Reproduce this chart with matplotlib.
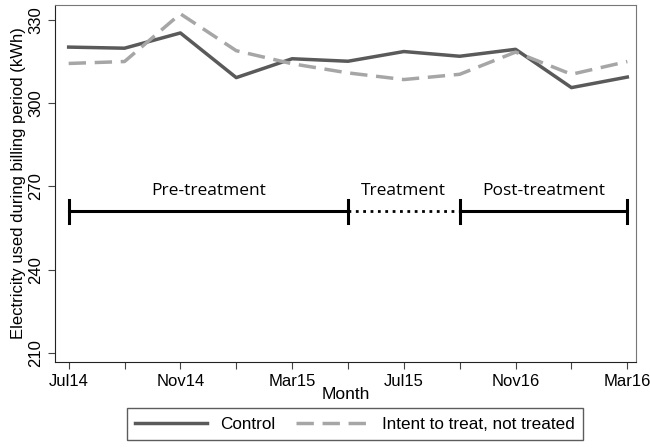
import matplotlib
matplotlib.use("Agg")
import matplotlib.pyplot as plt
import numpy as np

months = ["Jul14", "", "Nov14", "", "Mar15", "", "Jul15", "", "Nov16", "", "Mar16"]
control = [320.2, 319.8, 325.3, 309.2, 316.0, 315.1, 318.6, 316.9, 319.4, 305.6, 309.4]
intent = [314.3, 315.0, 332.2, 318.9, 314.2, 310.9, 308.5, 310.4, 318.4, 310.4, 315.0]

# periods: (label, start index, end index, style)
periods = [("Pre-treatment", 0, 5, "-"), ("Treatment", 5, 7, ":"), ("Post-treatment", 7, 10, "-")]
period_y = 261

plt.rcParams["font.family"] = ["Liberation Sans", "DejaVu Sans"]

fig = plt.figure(figsize=(6.5, 4.48), dpi=100)
ax = fig.add_axes([0.085, 0.192, 0.893, 0.797])

x = np.arange(len(months))
ax.plot(x, control, color="#5a5a5a", lw=2.5, label="Control")
ax.plot(x, intent, color="#a6a6a6", lw=2.5, ls=(0, (5, 2.5)), label="Intent to treat, not treated")

for name, a, b, style in periods:
    ax.plot([a, b], [period_y, period_y], color="black", lw=2.2 if style == "-" else 2.0, ls=style)
    ax.text((a + b) / 2, period_y + 4.6, name, ha="center", va="bottom",
            fontsize=12.5, family=["Open Sans", "DejaVu Sans"])
for b in [0, 5, 7, 10]:
    ax.plot([b, b], [period_y - 4.2, period_y + 4.2], color="black", lw=2.2)

ax.set_xlim(-0.24, 10.15)
ax.set_ylim(206.7, 335.4)
ax.set_xticks(x)
ax.set_xticklabels(months, fontsize=12)
ax.set_yticks([210, 240, 270, 300, 330])
ax.set_yticklabels(["210", "240", "270", "300", "330"], rotation=90, va="center", fontsize=12)
ax.tick_params(direction="out", length=5, color="#444444")
for s in ax.spines.values():
    s.set_color("#777777")
ax.spines["bottom"].set_color("#222222")
ax.spines["left"].set_color("#222222")

ax.set_xlabel("Month", fontsize=12.5, labelpad=-1)
ax.set_ylabel("Electricity used during billing period (kWh)", fontsize=12, labelpad=2)

leg = ax.legend(loc="lower center", bbox_to_anchor=(0.516, -0.243), ncol=2, frameon=True,
                fancybox=False, edgecolor="#333333", fontsize=12.3, handlelength=4.2,
                columnspacing=1.2, borderpad=0.5)
leg.get_frame().set_linewidth(1.0)

fig.savefig("out.png", dpi=100)
